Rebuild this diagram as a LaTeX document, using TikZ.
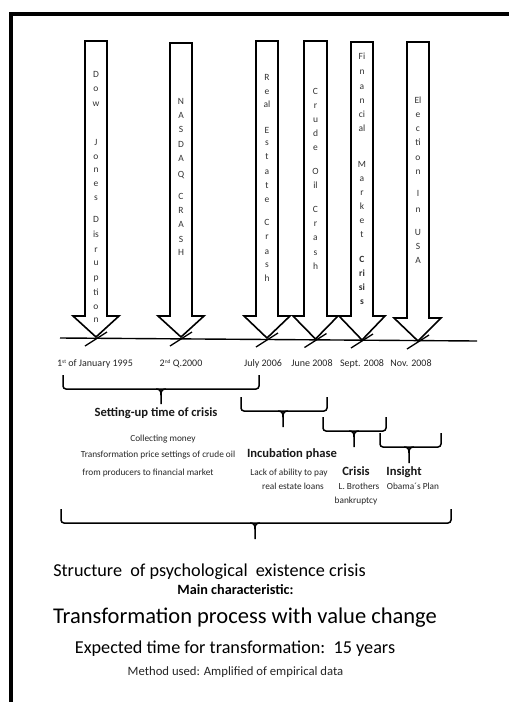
\documentclass[tikz,border=0pt]{standalone}
\usepackage{fontspec}
\setmainfont{Carlito}
\newcommand\crisisarrow[8]{% L R T B WL WR tipx tipy
  \draw[arrowshape] (#1,#3) -- (#2,#3) -- (#2,#4) -- (#6,#4) -- (#7,#8) -- (#5,#4) -- (#1,#4) -- cycle;}
\newcommand\openbrace[6]{% x1 x2 top h xm tip
  \draw[bracestyle] (#1,#3) -- (#1,#4) -- (#2,#4) -- (#2,#3);
  \draw[bracestyle, rounded corners=0pt] (#5-5,#4) .. controls (#5-1,#4) and (#5,#4+2) .. (#5,#4+6) -- (#5,#6);
  \draw[bracestyle, rounded corners=0pt] (#5+5,#4) .. controls (#5+1,#4) and (#5,#4+2) .. (#5,#4+6);}
\newcommand\smallsup[1]{\raisebox{3.2pt}{\fontsize{5.5}{6}\selectfont #1}}
\begin{document}
\begin{tikzpicture}[x=1pt,y=-1pt,
  arrowshape/.style={draw=black, line width=1.6pt, line join=miter},
  tickline/.style={draw=black, line width=1.3pt},
  bracestyle/.style={draw=black, line width=1.5pt, rounded corners=3pt},
  letter/.style={font=\fontsize{9.5}{11}\selectfont, text=black!80, inner sep=0pt, text height=7pt, text depth=2pt, anchor=center},
  bletter/.style={letter, font=\fontsize{9.5}{11}\selectfont\bfseries},
  datelbl/.style={font=\fontsize{10}{12}\selectfont, text=black!85, inner sep=0pt, anchor=base},
  smalllbl/.style={font=\fontsize{9.3}{11}\selectfont, text=black!85, inner sep=0pt, anchor=base},
  phaselbl/.style={font=\fontsize{12.6}{15}\selectfont\bfseries, text=black!90, inner sep=0pt, anchor=base},
  biglbl/.style={inner sep=0pt, anchor=base, text=black}]
\useasboundingbox (0,0) rectangle (509,702);
\fill[white] (0,0) rectangle (509,702);
% frame
\draw[line width=4pt, line join=miter] (11,702) -- (11,14) -- (509,14);

% arrows
\crisisarrow{85}{107}{41}{316}{73}{119}{96}{337}
\crisisarrow{170}{192}{43}{316}{158}{204}{181}{337}
\crisisarrow{256}{278}{41}{316}{244}{290}{267}{338}
\crisisarrow{304}{327}{41}{316}{293}{338}{315.5}{339}
\crisisarrow{351}{373}{42}{316}{339}{385}{362}{340}
\crisisarrow{407}{429}{42}{318}{394}{441}{418}{341}

% arrow letters
\foreach \y/\t in {75/D,89/o,104/w,143/J,157/o,170/n,184/e,198/s,220/D,235/is,250/r,263/u,278/p,293/ti,307/o,320/n}
  \node[letter] (dow-\y) at (96,\y) {\t};
\foreach \y/\t in {102/N,116/A,130/S,145/D,159/A,175/Q,197/C,211/R,225/A,240/S,253/H}
  \node[letter] (nas-\y) at (181,\y) {\t};
\foreach \y/\t in {78/R,92/e,105/al,131/E,143/s,157/t,172/a,186/t,200/e,223/C,237/r,252/a,265/s,279/h}
  \node[letter] (rea-\y) at (267,\y) {\t};
\foreach \y/\t in {92/C,106/r,120/u,134/d,148/e,172/O,186/il,210/C,224/r,238/a,253/s,267/h}
  \node[letter] (cru-\y) at (315.5,\y) {\t};
\foreach \y/\t in {57/Fi,72/n,87/a,101/n,115/ci,129/al,165/M,179/a,193/r,207/k,221/e,235/t}
  \node[letter] (fin-\y) at (362,\y) {\t};
\foreach \y/\t in {260/C,274/ri,288/si,302/s}
  \node[bletter] (fin-\y) at (362,\y) {\t};
\foreach \y/\t in {101/El,115/e,129/c,143/ti,158/o,172/n,194/I,210/n,233/U,247/S,261/A}
  \node[letter] (ele-\y) at (418,\y) {\t};

% timeline
\coordinate (tl0) at (60,338);
\coordinate (tl1) at (477,341);
\draw[line width=1.4pt] (tl0) -- (tl1);
\foreach \n/\x/\y in {a/96/338,b/181/338,c/267/339,d/315.5/339.5,e/362/340,f/418/341}{
  \coordinate (tip\n) at (\x,\y);
  \draw[tickline] ([shift={(-11,8)}]tip\n) -- ([shift={(11,-6)}]tip\n);
}

% dates
\node[datelbl] (d1) at (95,366.5) {1\smallsup{st} of January 1995};
\node[datelbl] (d2) at (181,366.5) {2\smallsup{nd} Q.2000};
\node[datelbl] (d3) at (263,366.5) {July 2006};
\node[datelbl] (d4) at (312,366.5) {June 2008};
\node[datelbl] (d5) at (362,366.5) {Sept. 2008};
\node[datelbl] (d6) at (411,366.5) {Nov. 2008};

% braces
\openbrace{63}{259}{375}{389}{161}{404}
\openbrace{241}{327}{397}{411}{283}{427}
\openbrace{323}{386}{417}{431}{354}{447}
\openbrace{380}{441}{433}{447}{409}{463}
\openbrace{61}{451}{509}{523}{255}{539}

% phase labels
\node[phaselbl] (p1) at (156,416) {Setting-up time of crisis};
\node[smalllbl] (p1a) at (163,441.5) {Collecting money};
\node[smalllbl] (p1b) at (158,457.5) {Transformation price settings of crude oil};
\node[smalllbl] (p1c) at (148,475.5) {from producers to financial market};
\node[phaselbl] (p2) at (292,457) {Incubation phase};
\node[smalllbl] (p2a) at (289,475.5) {Lack of ability to pay};
\node[smalllbl] (p2b) at (293,489.5) {real estate loans};
\node[phaselbl] (p3) at (356,475) {Crisis};
\node[smalllbl] (p3a) at (359,489.5) {L. Brothers};
\node[smalllbl] (p3b) at (356,503.5) {bankruptcy};
\node[phaselbl] (p4) at (404,475) {Insight};
\node[smalllbl] (p4a) at (413,489.5) {Obama´s Plan};

% bottom texts
\node[biglbl, font=\fontsize{18.2}{22}\selectfont] (s1) at (209.5,576) {Structure\ \ of psychological\ \ existence crisis};
\node[biglbl, font=\fontsize{14.2}{17}\selectfont\bfseries] (s2) at (235.5,594) {Main characteristic:};
\node[biglbl, font=\fontsize{22.5}{27}\selectfont] (s3) at (245,623.5) {Transformation process with value change};
\node[biglbl, font=\fontsize{18.2}{22}\selectfont] (s4) at (235,653.5) {Expected time for transformation:\ \ 15 years};
\node[biglbl, font=\fontsize{12.7}{15}\selectfont, text=black!85] (s5) at (235.5,675) {Method used: Amplified of empirical data};
\end{tikzpicture}
\end{document}
